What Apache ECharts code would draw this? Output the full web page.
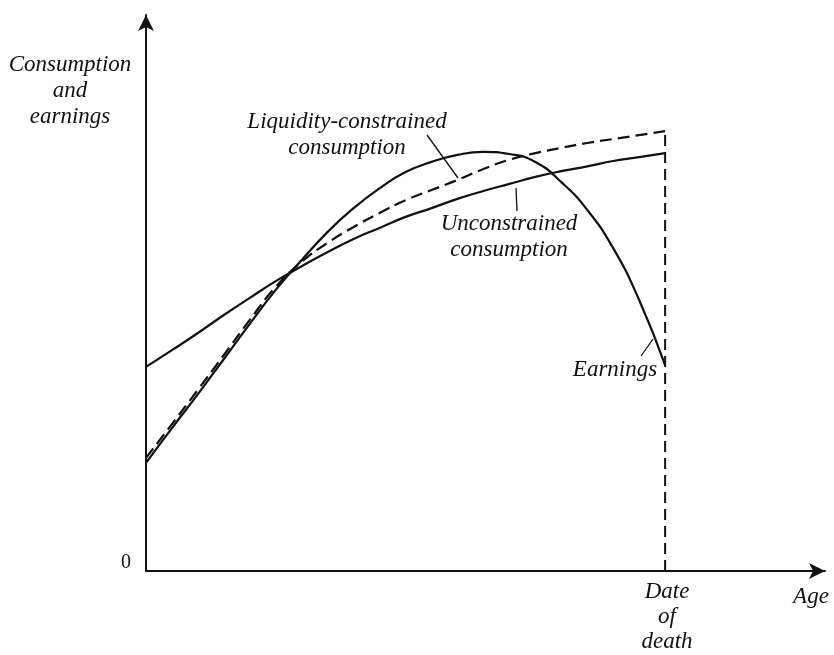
<!DOCTYPE html>
<html><head><meta charset="utf-8">
<script src="https://cdn.jsdelivr.net/npm/echarts@6/dist/echarts.min.js"></script>
<style>html,body{margin:0;padding:0;background:#fff}#c{width:834px;height:655px}</style>
</head><body><div id="c"></div>
<script>
// Age (0 = start of working life, 100 = date of death)
const ages = [0,5,10,15,20,25,30,35,40,45,50,55,60,65,70,75,80,85,90,95,100];
const unconstrained = [46.4,50.2,54.1,58.2,62.1,65.9,69.3,72.5,75.5,78.0,80.5,82.5,84.6,86.4,88.0,89.6,90.9,92.0,93.2,94.1,95.0];
const earnings = [24.6,32.5,40.2,48.2,56.2,63.9,70.7,77.1,82.5,87.0,90.7,93.0,94.6,95.3,94.8,93.0,88.4,82.1,73.4,61.6,46.8];
const constrained = [25.7,33.4,41.2,49.1,57.1,64.6,70.3,74.6,78.2,81.4,84.3,86.6,88.9,91.4,93.5,95.0,96.2,97.3,98.2,99.1,100.0];
const deathAge = 100;
const deathLine = [0, 100.2];

const serif = '"Liberation Serif","Times New Roman","DejaVu Serif",serif';
const ink = '#111';
const pair = (xs, ys) => xs.map((x, i) => [x, ys[i]]);

function label(x, y, text, size, lh) {
  return {
    type: 'text', x: x, y: y, silent: true,
    style: { text: text, fontFamily: serif, fontSize: size || 23, fontStyle: 'italic', fill: ink,
             align: 'center', verticalAlign: 'middle', lineHeight: lh || 26 }
  };
}
function leader(x1, y1, x2, y2) {
  return { type: 'line', silent: true, shape: { x1: x1, y1: y1, x2: x2, y2: y2 },
           style: { stroke: ink, lineWidth: 1.3 } };
}

const chart = echarts.init(document.getElementById('c'), null, { renderer: 'canvas' });
const axisCommon = {
  type: 'value', min: 0,
  axisLine: { show: true, symbol: ['none', 'arrow'], symbolSize: [12, 16],
              lineStyle: { color: ink, width: 2 } },
  axisTick: { show: false }, axisLabel: { show: false }, splitLine: { show: false }
};
chart.setOption({
  animation: false,
  backgroundColor: '#fff',
  grid: { left: 146, right: 9, top: 15, bottom: 84 },
  xAxis: Object.assign({}, axisCommon, { max: 130.8 }),
  yAxis: Object.assign({}, axisCommon, { max: 126.4 }),
  series: [
    { name: 'Unconstrained consumption', type: 'line', data: pair(ages, unconstrained),
      smooth: true, showSymbol: false, lineStyle: { color: ink, width: 2.2 } },
    { name: 'Earnings', type: 'line', data: pair(ages, earnings),
      smooth: true, showSymbol: false, lineStyle: { color: ink, width: 2.2 } },
    { name: 'Liquidity-constrained consumption', type: 'line', data: pair(ages, constrained),
      smooth: true, showSymbol: false, lineStyle: { color: ink, width: 2.2, type: [12, 6] } },
    { name: 'Date of death', type: 'line', data: deathLine.map(v => [deathAge, v]),
      showSymbol: false, lineStyle: { color: ink, width: 2, type: [11, 6] } }
  ],
  graphic: [
    label(70, 91, 'Consumption\nand\nearnings'),
    label(347, 135, 'Liquidity-constrained\nconsumption'),
    leader(427, 135, 458, 178),
    label(509, 237, 'Unconstrained\nconsumption'),
    leader(516, 188, 517, 211),
    label(615, 370, 'Earnings'),
    leader(641, 356, 653, 339),
    { type: 'text', x: 126, y: 563, silent: true,
      style: { text: '0', fontFamily: serif, fontSize: 20, fill: ink, align: 'center', verticalAlign: 'middle' } },
    label(667, 617, 'Date\nof\ndeath', 23, 25),
    label(811, 597, 'Age')
  ]
});
</script>
</body></html>
